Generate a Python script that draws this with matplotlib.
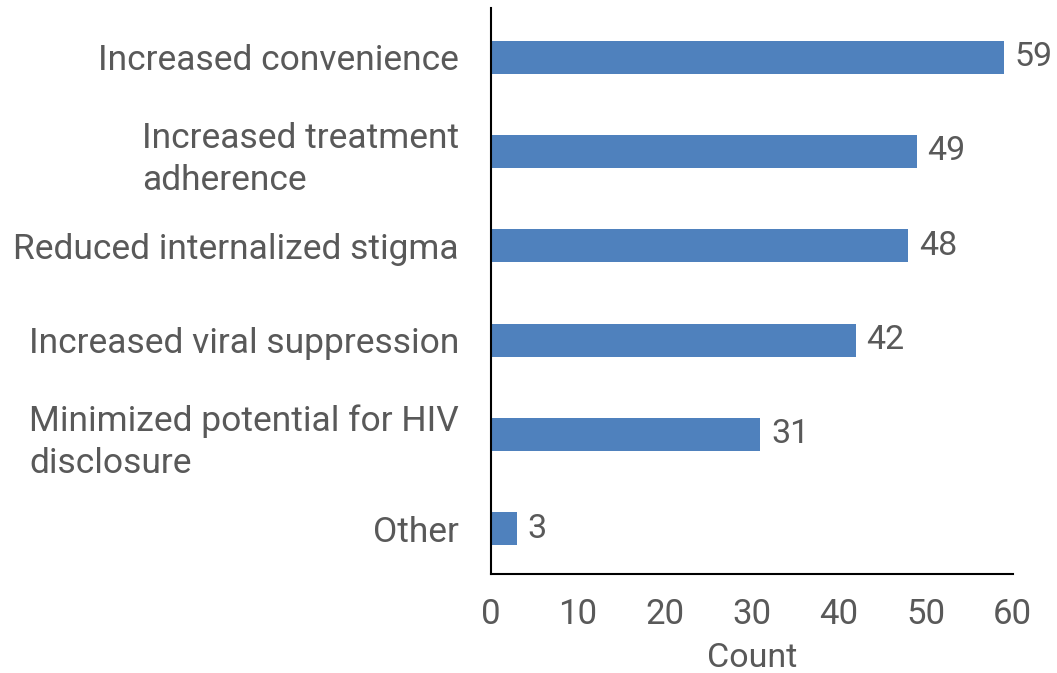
import matplotlib

matplotlib.use("Agg")
import matplotlib.pyplot as plt

categories = [
    "Increased convenience",
    "Increased treatment\nadherence",
    "Reduced internalized stigma",
    "Increased viral suppression",
    "Minimized potential for HIV\ndisclosure",
    "Other",
]
counts = [59, 49, 48, 42, 31, 3]
x_ticks = [0, 10, 20, 30, 40, 50, 60]

TEXT = "#595959"
BAR = "#4F81BD"

plt.rcParams["font.family"] = ["Roboto", "DejaVu Sans"]

fig = plt.figure(figsize=(10.57, 6.73), dpi=100)
ax = fig.add_axes([0.4645, 0.147, 0.4935, 0.841])

ypos = list(range(len(categories)))
ax.barh(ypos, counts, height=0.35, color=BAR)
ax.set_ylim(len(categories) - 0.5 - 0.02, -0.5 - 0.02)
ax.set_xlim(0, 60)
ax.set_xticks(x_ticks)
ax.set_xticklabels([str(t) for t in x_ticks], fontsize=25, color=TEXT)
ax.set_yticks(ypos)
ax.set_yticklabels(categories, fontsize=25.5, color=TEXT, ha="right",
                   multialignment="left", linespacing=1.35)
ax.tick_params(axis="both", length=0)
ax.tick_params(axis="x", pad=17)
ax.tick_params(axis="y", pad=23)

for y, v in zip(ypos, counts):
    ax.text(v + 1.2, y, str(v), va="center", ha="left", fontsize=24.5, color=TEXT)

for side in ["top", "right"]:
    ax.spines[side].set_visible(False)
for side in ["left", "bottom"]:
    ax.spines[side].set_linewidth(1.5)
    ax.spines[side].set_color("black")

ax.set_xlabel("Count", fontsize=24.5, color=TEXT, labelpad=8)

fig.savefig("out.png", dpi=100)
